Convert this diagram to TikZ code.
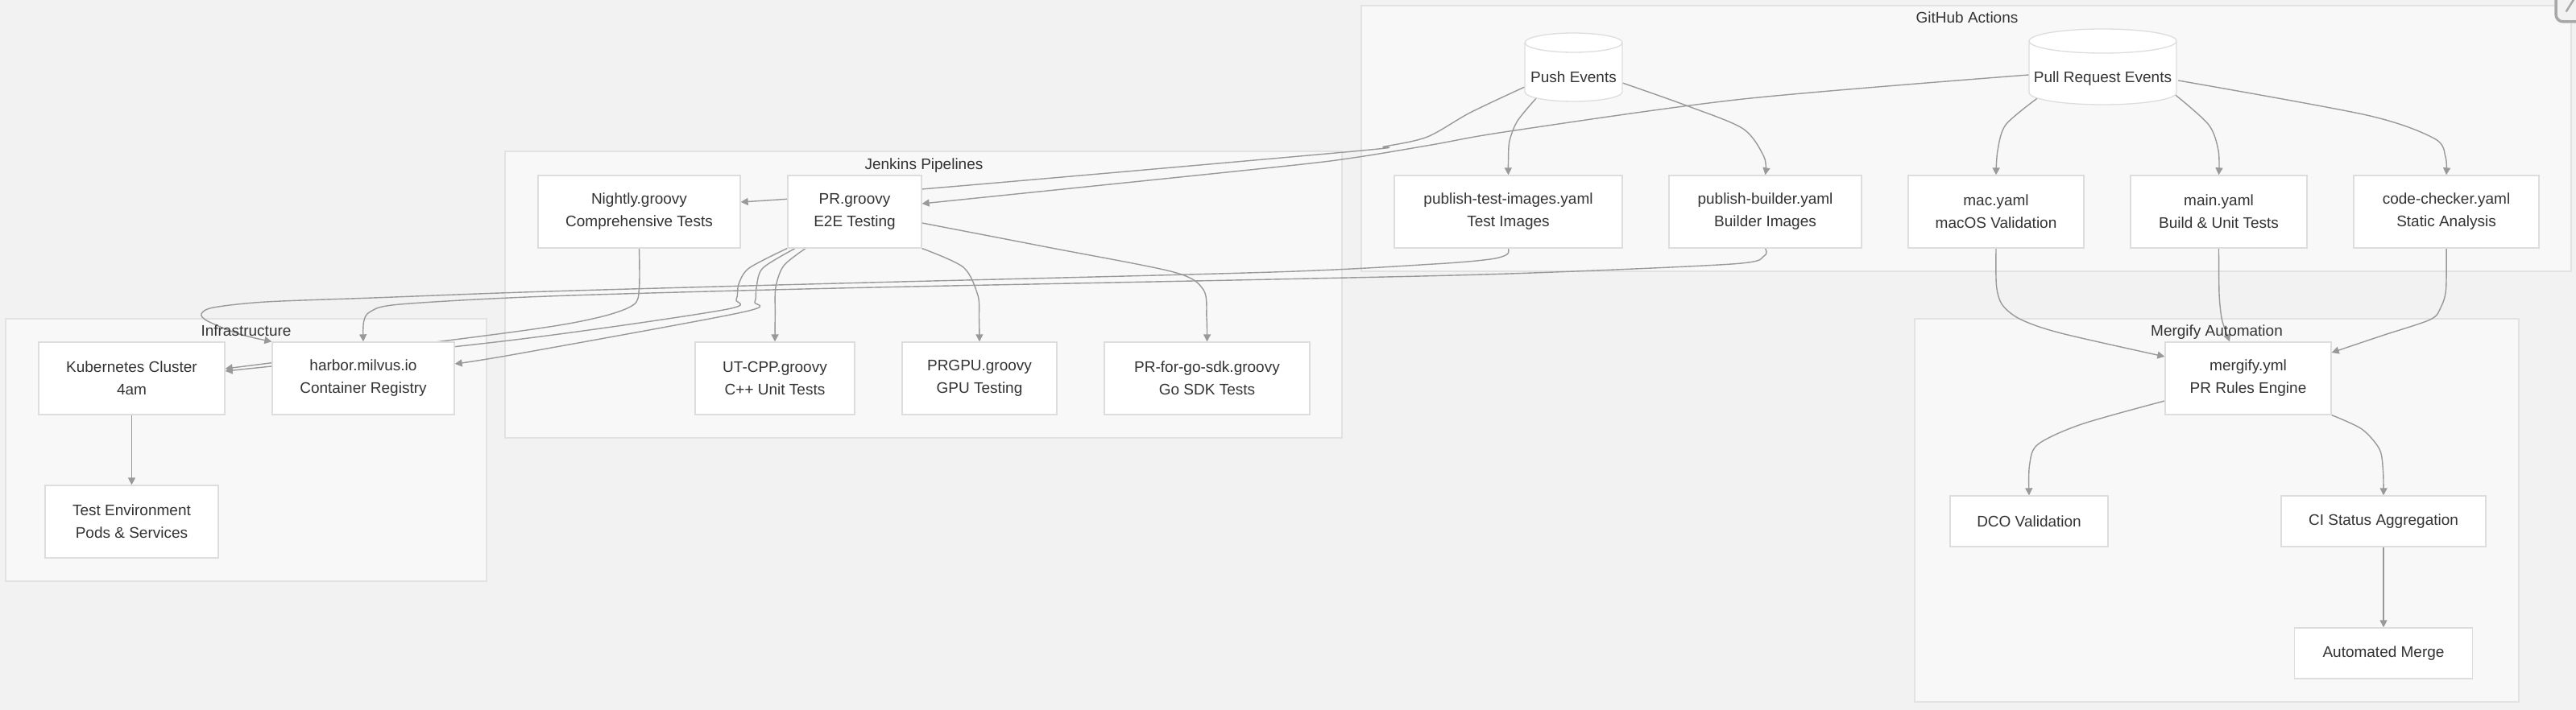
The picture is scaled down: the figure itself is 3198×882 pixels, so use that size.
\documentclass[tikz,border=0pt]{standalone}
\usepackage{fontspec}
\setmainfont{Liberation Sans}
\usetikzlibrary{arrows.meta,calc}
\pgfdeclarelayer{back}
\pgfdeclarelayer{mid}
\pgfsetlayers{back,mid,main}
\definecolor{bgc}{HTML}{F2F2F2}
\definecolor{clfill}{HTML}{F8F8F8}
\definecolor{clline}{HTML}{E2E2E2}
\definecolor{ndline}{HTML}{DDDDDD}
\definecolor{edgec}{HTML}{999999}
\definecolor{txtc}{HTML}{333333}
\definecolor{widgetc}{HTML}{A8A8A8}
\begin{document}
\begin{tikzpicture}[x=1pt,y=-1pt,
  cluster/.style={fill=clfill, draw=clline, line width=1.3pt, inner sep=0pt},
  cltitle/.style={text=txtc, font=\fontsize{19pt}{22pt}\selectfont, inner sep=0pt, anchor=base},
  box/.style={draw=ndline, fill=white, line width=1.3pt, inner sep=0pt, align=center, text=txtc, font=\fontsize{19pt}{28pt}\selectfont},
  ghost/.style={inner sep=0pt, draw=none},
  cylst/.style={draw=ndline, fill=white, line width=1.3pt},
  edge/.style={draw=edgec, line width=1.4pt, -{Triangle[length=9pt,width=9pt]}, line join=round},
]
\useasboundingbox (0,0) rectangle (3198,882);

% background and clusters
\begin{pgfonlayer}{back}
\fill[bgc] (0,0) rectangle (3198,882);
\node[cluster, minimum width=597pt, minimum height=326pt] (infraC) at (305.5,559) {};
\node[cluster, minimum width=1039pt, minimum height=356pt] (jenkC) at (1146.5,366) {};
\node[cluster, minimum width=1502pt, minimum height=330pt] (ghC) at (2441,172) {};
\node[cluster, minimum width=750pt, minimum height=476pt] (mgC) at (2752,634) {};
\end{pgfonlayer}
\node[cltitle] (infraT) at (305.5,417.7) {Infrastructure};
\node[cltitle] (jenkT) at (1147,210.7) {Jenkins Pipelines};
\node[cltitle] (ghT) at (2442,28.7) {GitHub Actions};
\node[cltitle] (mgT) at (2752,417.7) {Mergify Automation};

% cylinders
\filldraw[cylst] (1893,53) -- (1893,114) .. controls (1893,120.6) and (1920.1,126) .. (1953.5,126) .. controls (1986.9,126) and (2014,120.6) .. (2014,114) -- (2014,53) .. controls (2014,46.4) and (1986.9,41) .. (1953.5,41) .. controls (1920.1,41) and (1893,46.4) .. (1893,53) -- cycle;
\draw[cylst, fill=none] (1893,53) .. controls (1893,59.6) and (1920.1,65) .. (1953.5,65) .. controls (1986.9,65) and (2014,59.6) .. (2014,53);
\filldraw[cylst] (2519,51) -- (2519,115) .. controls (2519,123.3) and (2560,130) .. (2610.5,130) .. controls (2661,130) and (2702,123.3) .. (2702,115) -- (2702,51) .. controls (2702,42.7) and (2661,36) .. (2610.5,36) .. controls (2560,36) and (2519,42.7) .. (2519,51) -- cycle;
\draw[cylst, fill=none] (2519,51) .. controls (2519,59.3) and (2560,66) .. (2610.5,66) .. controls (2661,66) and (2702,59.3) .. (2702,51);
\node[ghost, minimum width=121pt, minimum height=85pt] (push) at (1953.5,83.5) {};
\node[ghost, minimum width=183pt, minimum height=94pt] (pre) at (2610.5,83) {};
\node[cltitle] (pushT) at (1953.5,102.7) {Push Events};
\node[cltitle] (preT) at (2610.5,102.7) {Pull Request Events};

% boxes
\node[box, minimum width=231pt, minimum height=90pt] (kube) at (163.5,470) {Kubernetes Cluster\\4am};
\node[box, minimum width=226pt, minimum height=90pt] (harbor) at (451,470) {harbor.milvus.io\\Container Registry};
\node[box, minimum width=215pt, minimum height=90pt] (testenv) at (163.5,648) {Test Environment\\Pods \& Services};
\node[box, minimum width=251pt, minimum height=90pt] (nightly) at (793.5,263) {Nightly.groovy\\Comprehensive Tests};
\node[box, minimum width=166pt, minimum height=90pt] (prg) at (1061,263) {PR.groovy\\E2E Testing};
\node[box, minimum width=198pt, minimum height=90pt] (utcpp) at (962,470) {UT-CPP.groovy\\C++ Unit Tests};
\node[box, minimum width=192pt, minimum height=90pt] (prgpu) at (1216,470) {PRGPU.groovy\\GPU Testing};
\node[box, minimum width=255pt, minimum height=90pt] (gosdk) at (1498.5,470) {PR-for-go-sdk.groovy\\Go SDK Tests};
\node[box, minimum width=283pt, minimum height=90pt] (pti) at (1872.5,263) {publish-test-images.yaml\\Test Images};
\node[box, minimum width=239pt, minimum height=90pt] (pb) at (2191.5,263) {publish-builder.yaml\\Builder Images};
\node[box, minimum width=218pt, minimum height=90pt] (mac) at (2478,263) {mac.yaml\\macOS Validation};
\node[box, minimum width=219pt, minimum height=90pt] (mainy) at (2754.5,263) {main.yaml\\Build \& Unit Tests};
\node[box, minimum width=230pt, minimum height=90pt] (cc) at (3037,263) {code-checker.yaml\\Static Analysis};
\node[box, minimum width=206pt, minimum height=90pt] (mergify) at (2791,470) {mergify.yml\\PR Rules Engine};
\node[box, minimum width=196pt, minimum height=63pt] (dco) at (2519,647.5) {DCO Validation};
\node[box, minimum width=254pt, minimum height=63pt] (ci) at (2959,647.5) {CI Status Aggregation};
\node[box, minimum width=221pt, minimum height=63pt] (am) at (2959,811.5) {Automated Merge};

% edge end points
\coordinate (s1) at ($(push.south)+(-46.5,-4)$);
\coordinate (s2) at ($(push.east)+(0,19.5)$);
\coordinate (s3) at ($(push.west)+(0,24.5)$);
\coordinate (t3) at ($(nightly.east)+(0,-12)$);
\coordinate (s4) at ($(pre.west)+(0,10)$);
\coordinate (t4) at ($(prg.east)+(0,-10)$);
\coordinate (s5) at ($(pre.south)+(-81.5,-8)$);
\coordinate (s6) at ($(pre.south)+(90.5,-12)$);
\coordinate (s7) at ($(pre.east)+(2,17)$);
\coordinate (s8) at ($(prg.south)+(-61,0)$);
\coordinate (s10) at ($(prg.east)+(0,14)$);
\coordinate (t11) at ($(kube.east)+(0,-12)$);
\coordinate (s12) at ($(prg.south)+(-84,0)$);
\coordinate (t12) at ($(kube.east)+(0,-9)$);
\coordinate (s13) at ($(prg.south)+(-74,0)$);
\coordinate (t13) at ($(harbor.east)+(0,-18)$);
\coordinate (t17) at ($(mergify.west)+(0,-27)$);
\coordinate (t18) at ($(mergify.north)+(-23,0)$);
\coordinate (t19) at ($(mergify.east)+(0,-32)$);
\coordinate (s20) at ($(mergify.west)+(0,28)$);

\begin{pgfonlayer}{mid}
\draw[edge] plot[smooth] coordinates {(s1) (1884,150) (1874,175) (1872.5,200) (pti.north)};
\draw[edge] plot[smooth] coordinates {(s2) (2096,132) (2164,160) (2190,195) (pb.north)};
\draw[edge] plot[smooth] coordinates {(s3) (1825,140) (1772,170) (1719,182) (1680,188) (1144,235) (t3)};
\draw[edge] plot[smooth] coordinates {(s4) (2164,123) (1874,163) (1777,180) (1680,196) (1580,208) (t4)};
\draw[edge] plot[smooth] coordinates {(s5) (2490,155) (2480,187) (mac.north)};
\draw[edge] plot[smooth] coordinates {(s6) (2742,155) (2754,187) (mainy.north)};
\draw[edge] plot[smooth] coordinates {(s7) (2938,143) (3022,172) (3036,195) (cc.north)};
\draw[edge] plot[smooth] coordinates {(s8) (973,330) (963,357) (962.3,390) (utcpp.north)};
\draw[edge] plot[smooth] coordinates {(prg.south east) (1196,332) (1214,367) (1215.5,395) (prgpu.north)};
\draw[edge] plot[smooth] coordinates {(s10) (1300,307) (1457,338) (1494,360) (1498,395) (gosdk.north)};
\draw[edge] plot[smooth] coordinates {(nightly.south) (793.5,358) (786,379) (740,395) (640,412) (t11)};
\draw[edge] plot[smooth] coordinates {(s12) (930,333) (917,353) (914,372) (898,385) (640,422) (t12)};
\draw[edge] plot[smooth] coordinates {(s13) (947,333) (939,357) (937,375) (921,388) (640,440) (t13)};
\draw[edge] plot[smooth] coordinates {(pti.south) (1871,316) (1850,322) (1780,328) (1580,338) (1040,352) (680,362) (463,370) (330,375) (265,382) (250,390) (258,399) (297,415) (harbor.north west)};
\draw[edge] plot[smooth] coordinates {(pb.south) (2190,318) (2150,328) (1874,340) (1580,347) (1040,358) (680,368) (497,378) (460,387) (451.5,400) (harbor.north)};
\draw[edge] (kube) -- (testenv);
\draw[edge] plot[smooth] coordinates {(mac.south) (2478.5,355) (2486,379) (2509,397) (2559,414) (t17)};
\draw[edge] plot[smooth] coordinates {(mainy.south) (2755,365) (2758,395) (2763,411) (t18)};
\draw[edge] plot[smooth] coordinates {(cc.south) (3036.5,360) (3030,382) (3017,397) (2957,417) (t19)};
\draw[edge] plot[smooth] coordinates {(s20) (2584,527) (2530,552) (2519.5,578) (dco.north)};
\draw[edge] plot[smooth] coordinates {(mergify.south east) (2932,533) (2954,558) (2958.5,585) (ci.north)};
\draw[edge] (ci) -- (am);
\end{pgfonlayer}

% corner widget
\draw[line width=3.5pt, draw=widgetc, fill=bgc, rounded corners=9pt] (3173,-40) rectangle (3240,27);
\draw[line width=2.5pt, draw=widgetc, line cap=round] (3186,14) -- (3196,-2);
\end{tikzpicture}
\end{document}
